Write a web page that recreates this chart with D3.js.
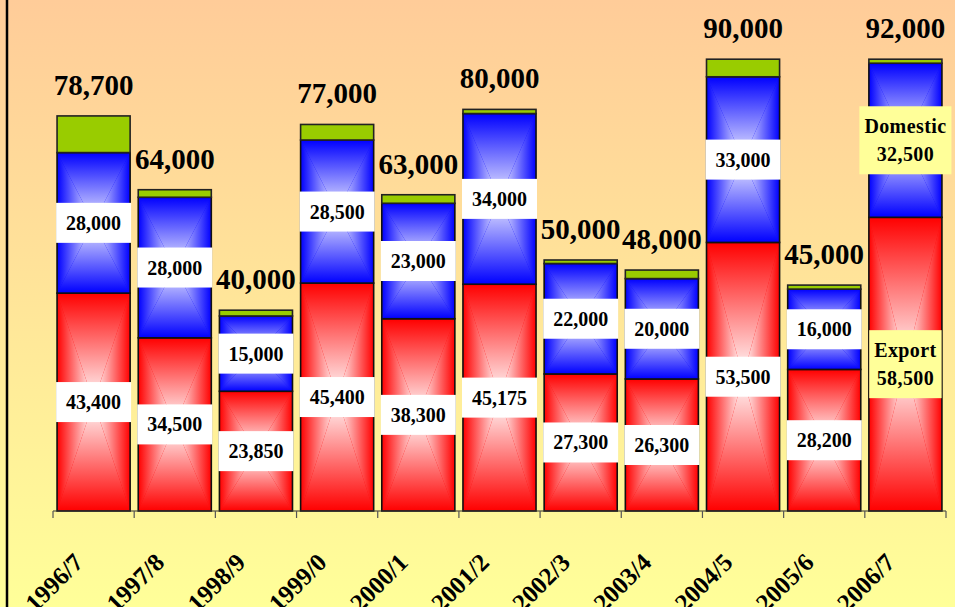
<!DOCTYPE html>
<html>
<head>
<meta charset="utf-8">
<script src="https://cdn.jsdelivr.net/npm/d3@7"></script>
<style>
  body { margin: 0; overflow: hidden; }
  svg { display: block; }
  text { font-family: "Liberation Serif", "Times New Roman", serif; font-weight: bold; }
</style>
</head>
<body>
<svg id="chart" width="955" height="607"></svg>
<script>
// values (drawn heights)
const years = ["1996/7", "1997/8", "1998/9", "1999/0", "2000/1", "2001/2", "2002/3", "2003/4", "2004/5", "2005/6", "2006/7"];
const exportVals = [43400, 34500, 23850, 45400, 38300, 45175, 27300, 26300, 53500, 28200, 58500];
const domesticVals = [28000, 28000, 15000, 28500, 23000, 34000, 22000, 20000, 33000, 16000, 30700];
const otherVals = [7300, 1500, 1150, 3100, 1700, 825, 700, 1700, 3500, 800, 800];

// label texts as printed
const totalLabels = ["78,700", "64,000", "40,000", "77,000", "63,000", "80,000", "50,000", "48,000", "90,000", "45,000", "92,000"];
const exportLabels = ["43,400", "34,500", "23,850", "45,400", "38,300", "45,175", "27,300", "26,300", "53,500", "28,200", "58,500"];
const domesticLabels = ["28,000", "28,000", "15,000", "28,500", "23,000", "34,000", "22,000", "20,000", "33,000", "16,000", "32,500"];
const seriesNames = ["Export", "Domestic"];

const W = 955, H = 607;
const svg = d3.select("#chart");
const defs = svg.append("defs");

// background
const bg = defs.append("linearGradient").attr("id", "bg")
  .attr("x1", 0).attr("y1", 0).attr("x2", 0).attr("y2", 1);
bg.append("stop").attr("offset", "0%").attr("stop-color", "#ffcc99");
bg.append("stop").attr("offset", "100%").attr("stop-color", "#ffff99");
svg.append("rect").attr("width", W).attr("height", H).attr("fill", "url(#bg)");
svg.append("line").attr("x1", 7).attr("x2", 7).attr("y1", 0).attr("y2", H)
  .attr("stroke", "#000").attr("stroke-width", 2.5);

// "from centre" gradients, one per side of the box
const sides = {
  top: [0, 0, 0, 1], bottom: [0, 1, 0, 0], left: [0, 0, 1, 0], right: [1, 0, 0, 0]
};
const shades = { red: ["#ff0000", "#ffffff"], blue: ["#0000ff", "#f0f0ff"] };
Object.entries(shades).forEach(([name, c]) => {
  Object.entries(sides).forEach(([side, v]) => {
    const g = defs.append("linearGradient").attr("id", `${name}-${side}`)
      .attr("x1", v[0]).attr("y1", v[1]).attr("x2", v[2]).attr("y2", v[3]);
    g.append("stop").attr("offset", "0%").attr("stop-color", c[0]);
    g.append("stop").attr("offset", "100%").attr("stop-color", c[1]);
  });
});

const x = d3.scaleBand().domain(years).range([53, 946]).paddingInner(0.1).paddingOuter(0.05);
const y = d3.scaleLinear().domain([0, 100000]).range([511, 9]);

const rows = years.map((yr, i) => ({
  yr, i,
  segs: [
    { y0: 0, y1: exportVals[i], shade: "red" },
    { y0: exportVals[i], y1: exportVals[i] + domesticVals[i], shade: "blue" },
    { y0: exportVals[i] + domesticVals[i], y1: exportVals[i] + domesticVals[i] + otherVals[i], shade: null }
  ]
}));

function drawSeg(g, d, x0, bw) {
  const top = y(d.y1), bot = y(d.y0);
  const cx = x0 + bw / 2, cy = (top + bot) / 2;
  if (d.shade) {
    const c = shades[d.shade][0];
    g.append("rect").attr("x", x0).attr("y", top).attr("width", bw).attr("height", bot - top).attr("fill", c);
    const tri = {
      top: [[x0, top], [x0 + bw, top], [cx, cy]],
      bottom: [[x0, bot], [x0 + bw, bot], [cx, cy]],
      left: [[x0, top], [x0, bot], [cx, cy]],
      right: [[x0 + bw, top], [x0 + bw, bot], [cx, cy]]
    };
    Object.entries(tri).forEach(([side, pts]) => {
      g.append("polygon").attr("points", pts.map(p => p.join(",")).join(" "))
        .attr("fill", `url(#${d.shade}-${side})`);
    });
    g.append("rect").attr("x", x0).attr("y", top).attr("width", bw).attr("height", bot - top)
      .attr("fill", "none").attr("stroke", "#111").attr("stroke-width", 1.6);
  } else {
    g.append("rect").attr("x", x0).attr("y", top).attr("width", bw).attr("height", bot - top)
      .attr("fill", "#99cc00").attr("stroke", "#222").attr("stroke-width", 1.6);
  }
}

const bars = svg.append("g");
rows.forEach(r => {
  const g = bars.append("g");
  r.segs.forEach(s => drawSeg(g, s, x(r.yr), x.bandwidth()));
});

// axis line and ticks between categories
const axisY = y(0);
svg.append("line").attr("x1", x.range()[0]).attr("x2", x.range()[1])
  .attr("y1", axisY).attr("y2", axisY).attr("stroke", "#333").attr("stroke-width", 1.2);
d3.range(years.length + 1).forEach(k => {
  const tx = x.range()[0] + k * x.step();
  svg.append("line").attr("x1", tx).attr("x2", tx).attr("y1", axisY).attr("y2", axisY + 7)
    .attr("stroke", "#555").attr("stroke-width", 1.2);
});

// x labels, slanted, running off the bottom edge as in the original
const xAxis = svg.append("g").attr("transform", `translate(0,${axisY})`)
  .call(d3.axisBottom(x).tickSize(0).tickSizeOuter(0));
xAxis.select(".domain").remove();
xAxis.selectAll("text")
  .style("font-size", "25px").attr("font-family", null).attr("fill", "#000")
  .attr("text-anchor", "end").attr("dy", null).attr("y", 0)
  .attr("transform", "translate(-9,53) rotate(-45)");

// total labels
svg.append("g").selectAll("text").data(rows).join("text")
  .attr("x", r => x(r.yr) + x.bandwidth() / 2)
  .attr("y", r => y(r.segs[2].y1) - 21)
  .attr("text-anchor", "middle").attr("font-size", 29).attr("fill", "#000")
  .text(r => totalLabels[r.i]);

// segment labels
const lab = svg.append("g");
rows.forEach(r => {
  const cx = x(r.yr) + x.bandwidth() / 2;
  const last = r.i === years.length - 1;
  [[r.segs[0], exportLabels[r.i], seriesNames[0]], [r.segs[1], domesticLabels[r.i], seriesNames[1]]]
    .forEach(([s, txt, name]) => {
      const cy = (y(s.y0) + y(s.y1)) / 2;
      const g = lab.append("g");
      const box = g.append("rect").attr("fill", last ? "#ffff99" : "#ffffff");
      if (last) {
        const t = g.append("text").attr("text-anchor", "middle").attr("font-size", 20)
          .attr("letter-spacing", 0.4).attr("fill", "#000");
        t.append("tspan").attr("x", cx).attr("y", cy - 7).text(name);
        t.append("tspan").attr("x", cx).attr("y", cy + 21).text(txt);
        const w = t.node().getBBox().width + 10;
        box.attr("x", cx - w / 2).attr("y", cy - 34).attr("width", w).attr("height", 68);
      } else {
        const t = g.append("text").attr("x", cx).attr("y", cy + 7).attr("text-anchor", "middle")
          .attr("font-size", 20).attr("fill", "#000").text(txt);
        const w = t.node().getComputedTextLength() + 20;
        box.attr("x", cx - w / 2).attr("y", cy - 20).attr("width", w).attr("height", 40);
      }
    });
});
</script>
</body>
</html>
